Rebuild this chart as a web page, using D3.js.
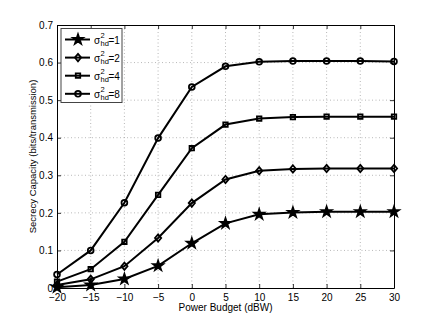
<!DOCTYPE html>
<html><head><meta charset="utf-8">
<script src="https://cdn.jsdelivr.net/npm/d3@7"></script>
<style>body{margin:0;background:#fff}svg text{font-family:"Liberation Sans",Arial,sans-serif}</style>
</head><body><svg id="c" width="436" height="325"></svg>
<script>
const powerBudget = [-20,-15,-10,-5,0,5,10,15,20,25,30];
const sigma1 = [0.002,0.008,0.024,0.059,0.119,0.172,0.196,0.201,0.203,0.203,0.203];
const sigma2 = [0.008,0.023,0.058,0.133,0.226,0.289,0.312,0.317,0.318,0.318,0.318];
const sigma4 = [0.017,0.050,0.123,0.248,0.372,0.435,0.451,0.455,0.456,0.456,0.456];
const sigma8 = [0.036,0.100,0.227,0.399,0.535,0.590,0.602,0.604,0.604,0.604,0.603];
const legendVals = ["1","2","4","8"];
const markers = ["star","diamond","square","circle"];
const xTicks = [-20,-15,-10,-5,0,5,10,15,20,25,30];
const yTicks = [0,0.1,0.2,0.3,0.4,0.5,0.6,0.7];
const series = [sigma1,sigma2,sigma4,sigma8];

const svg = d3.select("#c");
const L=57,R=394,T=25,B=288;
const x = d3.scaleLinear().domain([-20,30]).range([L,R]);
const y = d3.scaleLinear().domain([0,0.7]).range([B,T]);

// grid
const g = svg.append("g");
g.selectAll(".gx").data(xTicks.slice(1,-1)).enter().append("line")
 .attr("x1",d=>x(d)).attr("x2",d=>x(d)).attr("y1",T).attr("y2",B)
 .attr("stroke","#999").attr("stroke-width",0.7).attr("stroke-dasharray","1,2.5");
g.selectAll(".gy").data(yTicks.slice(1,-1)).enter().append("line")
 .attr("y1",d=>y(d)).attr("y2",d=>y(d)).attr("x1",L).attr("x2",R)
 .attr("stroke","#999").attr("stroke-width",0.7).attr("stroke-dasharray","1,2.5");

// axes
const ax = d3.axisBottom(x).tickValues(xTicks).tickSizeInner(-4).tickSizeOuter(0).tickPadding(6).tickFormat(d=>d<0?"\u2212"+(-d):d);
const ay = d3.axisLeft(y).tickValues(yTicks).tickSizeInner(-4).tickSizeOuter(0).tickPadding(4).tickFormat(d=>d===0?"0":d3.format(".1f")(d));
const axT = d3.axisTop(x).tickValues(xTicks).tickSizeInner(-4).tickSizeOuter(0).tickFormat("");
const ayR = d3.axisRight(y).tickValues(yTicks).tickSizeInner(-4).tickSizeOuter(0).tickFormat("");
function style(sel){sel.selectAll("path").attr("stroke","#000").attr("stroke-width",1);
 sel.selectAll("line").attr("stroke","#000").attr("stroke-width",0.8);
 sel.selectAll("text").attr("font-size",10).attr("fill","#000").style("font-family","'Liberation Sans',Arial,sans-serif");}
svg.append("g").attr("transform",`translate(0,${B})`).call(ax).call(style);
svg.append("g").attr("transform",`translate(${L},0)`).call(ay).call(style);
svg.append("g").attr("transform",`translate(0,${T})`).call(axT).call(style);
svg.append("g").attr("transform",`translate(${R},0)`).call(ayR).call(style);

svg.append("text").attr("x",(L+R)/2).attr("y",311).attr("text-anchor","middle").attr("font-size",10).text("Power Budget (dBW)");
svg.append("text").attr("transform",`translate(36,${(T+B)/2}) rotate(-90)`).attr("text-anchor","middle").attr("font-size",9.5).text("Secrecy Capacity (bits/transmission)");

const diamondSym = {draw(ctx,size){const r=Math.sqrt(size)/1.5; ctx.moveTo(0,-r);ctx.lineTo(r*0.85,0);ctx.lineTo(0,r);ctx.lineTo(-r*0.85,0);ctx.closePath();}};
const sym = {star:d3.symbol().type(d3.symbolStar).size(30),
 diamond:d3.symbol().type(diamondSym).size(30),
 square:d3.symbol().type(d3.symbolSquare).size(20),
 circle:d3.symbol().type(d3.symbolCircle).size(26)};
const fills = {star:"#000",diamond:"none",square:"none",circle:"none"};
const line = d3.line().x((d,i)=>x(powerBudget[i])).y(d=>y(d));
series.forEach((s,k)=>{
 svg.append("path").attr("d",line(s)).attr("fill","none").attr("stroke","#000").attr("stroke-width",2);
 svg.append("g").selectAll("path").data(s).enter().append("path")
  .attr("d",sym[markers[k]]).attr("transform",(d,i)=>`translate(${x(powerBudget[i])},${y(d)})`)
  .attr("fill",fills[markers[k]]).attr("stroke","#000").attr("stroke-width",1.8);
});

// legend
const lg = svg.append("g");
lg.append("rect").attr("x",61).attr("y",28.5).attr("width",61).attr("height",74).attr("fill","#fff").attr("stroke","#444").attr("stroke-width",1);
legendVals.forEach((v,k)=>{
 const yy = 39.5 + k*18.1;
 lg.append("line").attr("x1",65).attr("x2",90).attr("y1",yy).attr("y2",yy).attr("stroke","#000").attr("stroke-width",2);
 lg.append("path").attr("d",sym[markers[k]]).attr("transform",`translate(78,${yy})`).attr("fill",fills[markers[k]]).attr("stroke","#000").attr("stroke-width",1.8);
 lg.append("text").attr("x",94).attr("y",yy+4).attr("font-size",10).text("\u03c3");
 lg.append("text").attr("x",100.5).attr("y",yy-1.5).attr("font-size",7.5).text("2");
 lg.append("text").attr("x",100.5).attr("y",yy+6).attr("font-size",7.5).text("hd");
 lg.append("text").attr("x",108.5).attr("y",yy+4).attr("font-size",10).text("="+v);
});
</script></body></html>
